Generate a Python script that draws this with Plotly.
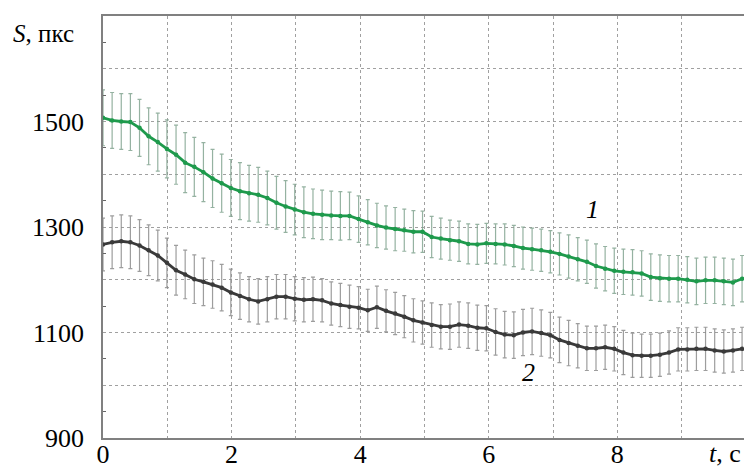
import plotly.graph_objects as go

# sample times (s)
t = [0.000, 0.142, 0.284, 0.426, 0.568, 0.710, 0.852, 0.994, 1.136, 1.278,
     1.420, 1.562, 1.704, 1.846, 1.988, 2.130, 2.272, 2.414, 2.556, 2.698,
     2.840, 2.982, 3.124, 3.266, 3.408, 3.550, 3.692, 3.834, 3.976, 4.118,
     4.260, 4.402, 4.544, 4.686, 4.828, 4.970, 5.112, 5.254, 5.396, 5.538,
     5.680, 5.822, 5.964, 6.106, 6.248, 6.390, 6.532, 6.674, 6.816, 6.958,
     7.100, 7.242, 7.384, 7.526, 7.668, 7.810, 7.952, 8.094, 8.236, 8.378,
     8.520, 8.662, 8.804, 8.946, 9.088, 9.230, 9.372, 9.514, 9.656, 9.798,
     9.940]

# curve 1 (green)
s1 = [1507, 1502, 1500, 1499, 1488, 1472, 1461, 1448, 1437, 1422,
      1414, 1404, 1392, 1383, 1374, 1368, 1364, 1361, 1355, 1346,
      1339, 1333, 1328, 1325, 1323, 1322, 1321, 1321, 1315, 1309,
      1303, 1299, 1296, 1294, 1291, 1291, 1281, 1278, 1275, 1273,
      1268, 1267, 1269, 1268, 1267, 1264, 1260, 1258, 1256, 1253,
      1249, 1244, 1239, 1234, 1226, 1221, 1217, 1215, 1214, 1212,
      1205, 1203, 1202, 1202, 1200, 1197, 1199, 1199, 1197, 1195,
      1202]
e1 = [53, 53, 53, 54, 54, 54, 55, 55, 56, 57, 56, 56, 55, 55, 54, 54, 53,
      52, 51, 50, 49, 48, 48, 47, 47, 46, 46, 45, 44, 43, 42,
      41, 41, 40, 40, 39, 39, 39, 38, 38, 38, 38, 38, 38, 39, 39, 40, 40, 40, 40, 40, 41, 41, 41,
      42, 42, 43, 43, 43, 43, 44, 44, 44, 44, 44, 44, 44, 44, 44, 44, 44]

# curve 2 (black)
s2 = [1267, 1271, 1273, 1271, 1265, 1256, 1246, 1232, 1218, 1210,
      1201, 1196, 1191, 1185, 1176, 1169, 1163, 1159, 1163, 1168,
      1168, 1164, 1162, 1163, 1161, 1155, 1152, 1149, 1147, 1142,
      1148, 1141, 1136, 1130, 1123, 1119, 1114, 1111, 1111, 1115,
      1113, 1109, 1108, 1101, 1096, 1095, 1100, 1102, 1099, 1095,
      1086, 1080, 1075, 1070, 1070, 1072, 1069, 1062, 1057, 1056,
      1056, 1058, 1062, 1068, 1068, 1069, 1069, 1066, 1064, 1066,
      1069]
e2 = [50, 50, 50, 50, 49, 48, 48, 47, 47, 46, 46,
      45, 45, 44, 44, 44, 43, 43, 43, 42, 42, 42, 42, 42, 41, 41, 41, 41, 40, 40, 40,
      40, 40, 40, 41, 41, 42, 42, 43, 43, 43, 43, 43, 44, 44, 44, 44, 44, 44, 43, 43, 43, 42, 42,
      42, 42, 42, 42, 42, 41, 41, 41, 41, 41, 41, 41, 41, 41, 41, 41, 41]

x_tickvals = [0, 1, 2, 3, 4, 5, 6, 7, 8, 9]
x_ticktext = ["0", "", "2", "", "4", "", "6", "", "8", ""]
y_tickvals = [900, 1000, 1100, 1200, 1300, 1400, 1500, 1600]
y_ticktext = ["900", "", "1100", "", "1300", "", "1500", ""]
y_minor = [950, 1050, 1150, 1250, 1350, 1450, 1550, 1650]

SERIF = "Liberation Serif, Times New Roman, serif"
FS = 26

fig = go.Figure()
fig.add_trace(go.Scatter(
    x=t, y=s1, mode="lines+markers",
    line=dict(color="#1e9a4c", width=2.8),
    marker=dict(color="#1e9a4c", size=4.5),
    error_y=dict(type="data", array=e1, visible=True,
                 color="rgba(130,165,145,0.85)", thickness=1.2, width=2),
    showlegend=False))
fig.add_trace(go.Scatter(
    x=t, y=s2, mode="lines+markers",
    line=dict(color="#3a3a3a", width=2.8),
    marker=dict(color="#3a3a3a", size=4.5),
    error_y=dict(type="data", array=e2, visible=True,
                 color="rgba(140,140,140,0.85)", thickness=1.2, width=2),
    showlegend=False))

fig.add_annotation(x=-0.143, y=0.9585, xref="paper", yref="paper", text="<i>S</i>, пкс",
                   showarrow=False, xanchor="left", yanchor="middle",
                   font=dict(family=SERIF, size=FS - 1, color="black"))
fig.add_annotation(x=0.998, y=-0.037, xref="paper", yref="paper", text="<i>t</i>, c",
                   showarrow=False, xanchor="right", yanchor="middle",
                   font=dict(family=SERIF, size=FS, color="black"))
fig.add_annotation(x=7.62, y=1334, xref="x", yref="y", text="<i>1</i>",
                   showarrow=False, font=dict(family=SERIF, size=FS, color="black"))
fig.add_annotation(x=6.62, y=1025, xref="x", yref="y", text="<i>2</i>",
                   showarrow=False, font=dict(family=SERIF, size=FS, color="black"))

fig.update_xaxes(range=[0, 9.97], tickmode="array", tickvals=x_tickvals, ticktext=x_ticktext,
                 showgrid=True, gridcolor="#a0a0a0", griddash="dot", gridwidth=1,
                 showline=True, linecolor="#808080", linewidth=1.5, mirror=True,
                 ticks="", zeroline=False, ticklabelstandoff=-8, automargin=False,
                 tickfont=dict(family=SERIF, size=FS, color="black"))
fig.update_yaxes(range=[900, 1700], tickmode="array", tickvals=y_tickvals, ticktext=y_ticktext,
                 showgrid=True, gridcolor="#a0a0a0", griddash="dot", gridwidth=1,
                 showline=True, linecolor="#808080", linewidth=1.5, mirror=True,
                 ticks="", zeroline=False, ticklabelstandoff=12, automargin=False,
                 minor=dict(tickmode="array", tickvals=y_minor, ticks="inside",
                            ticklen=3, tickcolor="#666666", showgrid=False),
                 tickfont=dict(family=SERIF, size=FS, color="black"))

fig.update_layout(width=744, height=468,
                  margin=dict(l=103, r=0, t=16, b=30),
                  paper_bgcolor="white", plot_bgcolor="white")

fig.write_html("out.html", config={"displayModeBar": False},
               post_script="document.body.style.margin='0';document.body.style.overflow='hidden';")
